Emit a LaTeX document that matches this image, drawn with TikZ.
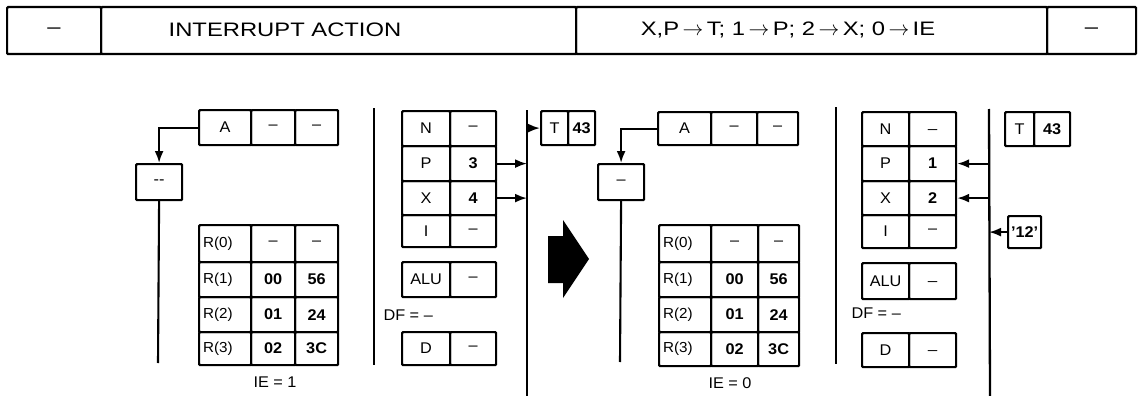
\documentclass[tikz,border=0pt]{standalone}
\usepackage{fontspec}
\setmainfont{Liberation Sans}
\newfontfamily\hdff[FakeStretch=1.22,Ligatures=TeX]{Liberation Sans}
\newfontfamily\rgff[FakeStretch=1.05,Ligatures=TeX]{Liberation Sans}
\usetikzlibrary{arrows.meta}
\newcommand\hdfont{\hdff\fontsize{19.5}{21}\selectfont}
\newcommand\rgfont{\rgff\fontsize{15.5}{17}\selectfont}
\newcommand\smfont{\rgff\fontsize{14.5}{16}\selectfont}
\newcommand\cellxy[6][]{%
  \pgfmathsetmacro\cellW{#4-#2}%
  \node[cell,minimum width=\cellW pt,#1] (#3) at (#2,#5) {#6};}
% usage: \cellxy[opts]{x1}{name}{x2}{y1}{text} with height given by opts
\begin{document}
\begin{tikzpicture}[x=1pt,y=-1pt,
  cell/.style={draw,line width=2.2pt,rounded corners=1pt,inner sep=0pt,anchor=north west,font=\rgfont},
  conn/.style={line width=2.1pt},
  arr/.style={line width=2.1pt,-{Latex[length=12pt,width=9pt]}},
  sep/.style={line width=2.3pt}]
\useasboundingbox (0,0) rectangle (1138,396);

% ---------- header ----------
\cellxy[minimum height=47pt,font=\hdfont]{6}{h1}{100}{6}{--}
\cellxy[minimum height=47pt,font=\hdfont]{100}{h2}{575}{6}{}
\cellxy[minimum height=47pt,font=\hdfont]{575}{h3}{1046}{6}{}
\cellxy[minimum height=47pt,font=\hdfont]{1046}{h4}{1135}{6}{--}
\node[font=\hdfont] (h2t) at (285,30) {INTERRUPT ACTION};
\node[font=\hdfont] (h3t) at (788,30) {X,P$\,\rightarrow\,$T; 1$\,\rightarrow\,$P; 2$\,\rightarrow\,$X; 0$\,\rightarrow\,$IE};

% ---------- left state ----------
\cellxy[minimum height=35pt]{198}{LA1}{250}{109}{A}
\cellxy[minimum height=35pt]{250}{LA2}{294}{109}{--}
\cellxy[minimum height=35pt]{294}{LA3}{337}{109}{--}
\cellxy[minimum height=36pt]{135}{Lbox}{181}{163}{-{}-}
\draw[arr] (LA1.west) -| (Lbox.north);
\coordinate (Lend) at (158,363);
\draw[conn] (Lbox.south) -- (Lend);

% register file
\cellxy[minimum height=37pt]{198}{LR0}{250}{224}{\smfont\makebox[50pt][l]{\hspace{3pt}R(0)}}
\cellxy[minimum height=37pt]{250}{LR0a}{294}{224}{--}
\cellxy[minimum height=37pt]{294}{LR0b}{337}{224}{--}
\cellxy[minimum height=35pt]{198}{LR1}{250}{261}{\smfont\makebox[50pt][l]{\hspace{3pt}R(1)}}
\cellxy[minimum height=35pt]{250}{LR1a}{294}{261}{\bfseries 00}
\cellxy[minimum height=35pt]{294}{LR1b}{337}{261}{\bfseries 56}
\cellxy[minimum height=35pt]{198}{LR2}{250}{296}{\smfont\makebox[50pt][l]{\hspace{3pt}R(2)}}
\cellxy[minimum height=35pt]{250}{LR2a}{294}{296}{\bfseries 01}
\cellxy[minimum height=35pt]{294}{LR2b}{337}{296}{\bfseries 24}
\cellxy[minimum height=33pt]{198}{LR3}{250}{331}{\smfont\makebox[50pt][l]{\hspace{3pt}R(3)}}
\cellxy[minimum height=33pt]{250}{LR3a}{294}{331}{\bfseries 02}
\cellxy[minimum height=33pt]{294}{LR3b}{337}{331}{\bfseries 3C}
\node[font=\rgfont] (LIE) at (275,382) {IE = 1};

\coordinate (LsepT) at (374,108);
\coordinate (LsepB) at (374,365);
\draw[sep] (LsepT) -- (LsepB);

% N P X I
\cellxy[minimum height=35pt]{401}{LN}{449}{110}{N}
\cellxy[minimum height=35pt]{449}{LNv}{495}{110}{--}
\cellxy[minimum height=35pt]{401}{LP}{449}{145}{P}
\cellxy[minimum height=35pt]{449}{LPv}{495}{145}{\bfseries 3}
\cellxy[minimum height=34pt]{401}{LX}{449}{180}{X}
\cellxy[minimum height=34pt]{449}{LXv}{495}{180}{\bfseries 4}
\cellxy[minimum height=32pt]{401}{LI}{449}{214}{I}
\cellxy[minimum height=32pt]{449}{LIv}{495}{214}{--}
\cellxy[minimum height=35pt]{401}{LALU}{449}{261}{ALU}
\cellxy[minimum height=35pt]{449}{LALUv}{495}{261}{--}
\node[font=\rgfont,anchor=west] (LDF) at (380,315) {DF = --};
\cellxy[minimum height=33pt]{401}{LD}{449}{331}{D}
\cellxy[minimum height=33pt]{449}{LDv}{495}{331}{--}

\coordinate (LbusT) at (527,110);
\coordinate (LbusB) at (527,396);
\draw[sep] (LbusT) -- (LbusB);
\draw[arr] (LPv.east) -- (LPv.east -| LbusT);
\draw[arr] (LXv.east) -- (LXv.east -| LbusT);
\cellxy[minimum height=34pt]{540}{LT}{567}{110}{T}
\cellxy[minimum height=34pt]{567}{LTv}{594}{110}{\bfseries 43}
\draw[arr] (LT.west -| LbusT) -- (LT.west);

% ---------- big arrow ----------
\fill (548,236) -- (563,236) -- (563,220) -- (589,259) -- (563,298) -- (563,283) -- (548,283) -- cycle;

% ---------- right state ----------
\cellxy[minimum height=33pt]{657}{RA1}{710}{111}{A}
\cellxy[minimum height=33pt]{710}{RA2}{756}{111}{--}
\cellxy[minimum height=33pt]{756}{RA3}{797}{111}{--}
\cellxy[minimum height=36pt]{597}{Rbox}{643}{163}{--}
\draw[arr] (RA1.west) -| (Rbox.north);
\coordinate (Rend) at (620,362);
\draw[conn] (Rbox.south) -- (Rend);

\cellxy[minimum height=37pt]{658}{RR0}{710}{224}{\smfont\makebox[50pt][l]{\hspace{3pt}R(0)}}
\cellxy[minimum height=37pt]{710}{RR0a}{757}{224}{--}
\cellxy[minimum height=37pt]{757}{RR0b}{798}{224}{--}
\cellxy[minimum height=35pt]{658}{RR1}{710}{261}{\smfont\makebox[50pt][l]{\hspace{3pt}R(1)}}
\cellxy[minimum height=35pt]{710}{RR1a}{757}{261}{\bfseries 00}
\cellxy[minimum height=35pt]{757}{RR1b}{798}{261}{\bfseries 56}
\cellxy[minimum height=35pt]{658}{RR2}{710}{296}{\smfont\makebox[50pt][l]{\hspace{3pt}R(2)}}
\cellxy[minimum height=35pt]{710}{RR2a}{757}{296}{\bfseries 01}
\cellxy[minimum height=35pt]{757}{RR2b}{798}{296}{\bfseries 24}
\cellxy[minimum height=34pt]{658}{RR3}{710}{331}{\smfont\makebox[50pt][l]{\hspace{3pt}R(3)}}
\cellxy[minimum height=34pt]{710}{RR3a}{757}{331}{\bfseries 02}
\cellxy[minimum height=34pt]{757}{RR3b}{798}{331}{\bfseries 3C}
\node[font=\rgfont] (RIE) at (730,383) {IE = 0};

\coordinate (RsepT) at (836,107);
\coordinate (RsepB) at (836,364);
\draw[sep] (RsepT) -- (RsepB);

\cellxy[minimum height=34pt]{861}{RN}{908}{111}{N}
\cellxy[minimum height=34pt]{908}{RNv}{955}{111}{\_}
\cellxy[minimum height=35pt]{861}{RP}{908}{145}{P}
\cellxy[minimum height=35pt]{908}{RPv}{955}{145}{\bfseries 1}
\cellxy[minimum height=34pt]{861}{RX}{908}{180}{X}
\cellxy[minimum height=34pt]{908}{RXv}{955}{180}{\bfseries 2}
\cellxy[minimum height=33pt]{861}{RI}{908}{214}{I}
\cellxy[minimum height=33pt]{908}{RIv}{955}{214}{--}
\cellxy[minimum height=36pt]{861}{RALU}{908}{262}{ALU}
\cellxy[minimum height=36pt]{908}{RALUv}{955}{262}{\_}
\node[font=\rgfont,anchor=west] (RDF) at (848,313) {DF = --};
\cellxy[minimum height=34pt]{861}{RD}{908}{332}{D}
\cellxy[minimum height=34pt]{908}{RDv}{955}{332}{\_}

\coordinate (RbusT) at (989,109);
\coordinate (RbusB) at (990,396);
\draw[sep] (RbusT) -- (RbusB);
\draw[arr] (RPv.east -| RbusT) -- (RPv.east);
\draw[arr] (RXv.east -| RbusT) -- (RXv.east);
\cellxy[minimum height=34pt]{1004}{RT}{1033}{111}{T}
\cellxy[minimum height=34pt]{1033}{RTv}{1069}{111}{\bfseries 43}
\cellxy[minimum height=32pt]{1007}{R12}{1040}{215}{\bfseries '12'}
\draw[arr] (R12.west) -- (R12.west -| RbusT);
\end{tikzpicture}
\end{document}
